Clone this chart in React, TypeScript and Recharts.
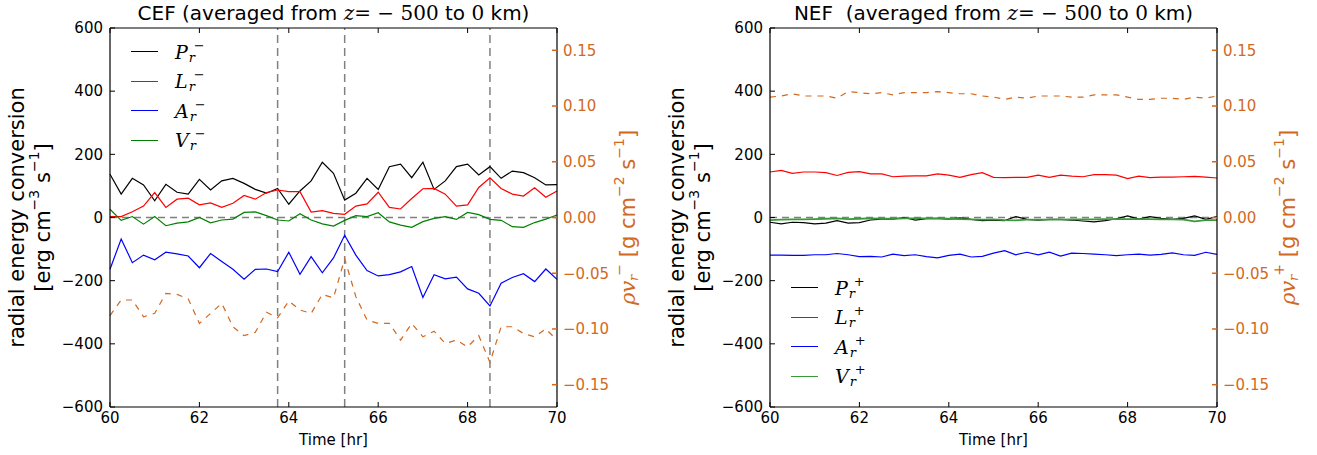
import React from 'react'
import { LineChart, Line, XAxis, YAxis, ReferenceLine, Legend } from 'recharts'

const timeHr = [
  60, 60.25, 60.5, 60.75, 61, 61.25, 61.5, 61.75, 62, 62.25, 62.5, 62.75, 63, 63.25,
  63.5, 63.75, 64, 64.25, 64.5, 64.75, 65, 65.25, 65.5, 65.75, 66, 66.25, 66.5, 66.75,
  67, 67.25, 67.5, 67.75, 68, 68.25, 68.5, 68.75, 69, 69.25, 69.5, 69.75, 70
]

// CEF, averaged over z = -500 .. 0 km
const cefP = [137, 74, 124, 103, 53, 105, 80, 74, 121, 87, 116, 124, 108, 89, 77, 92, 42, 84, 116, 175, 140, 55, 77, 124, 89, 161, 169, 126, 175, 89, 116, 161, 169, 135, 161, 124, 147, 142, 126, 103, 104]
const cefL = [3, 3, 18, 36, 79, 32, 58, 61, 40, 46, 32, 45, 70, 58, 79, 87, 82, 82, 17, 22, 13, 10, 36, 43, 80, 32, 27, 60, 91, 92, 74, 36, 40, 95, 126, 92, 74, 68, 94, 64, 84]
const cefA = [-164, -68, -143, -119, -134, -110, -115, -122, -159, -114, -139, -164, -195, -164, -163, -171, -110, -180, -124, -175, -128, -56, -119, -168, -185, -181, -172, -155, -253, -181, -194, -189, -226, -240, -280, -208, -190, -178, -203, -163, -196]
const cefV = [26, -9, 3, -21, 3, -26, -18, -14, 0, -17, -8, -5, 16, 18, 6, -8, -11, 12, -8, -20, -27, -9, 6, 3, 15, -14, -24, -31, -13, -3, 3, -6, 16, 9, -6, -9, -29, -31, -16, -5, 8]
const cefRho = [-0.088, -0.074, -0.074, -0.089, -0.086, -0.068, -0.069, -0.073, -0.095, -0.086, -0.077, -0.098, -0.106, -0.103, -0.085, -0.09, -0.075, -0.083, -0.086, -0.069, -0.072, -0.037, -0.071, -0.092, -0.095, -0.095, -0.11, -0.095, -0.107, -0.102, -0.113, -0.11, -0.116, -0.106, -0.13, -0.098, -0.098, -0.104, -0.107, -0.1, -0.11]
const cefMarks = [63.75, 65.25, 68.5]

// NEF
const nefP = [-15, -20, -15, -16, -20, -18, -10, -18, -16, -8, -5, -5, 0, -8, -4, -3, -5, -1, -6, -10, -8, -10, 3, -6, -8, -6, -6, -8, -11, -14, -10, -4, 5, -5, 3, -3, -6, -3, 5, -6, 3]
const nefL = [144, 149, 140, 144, 144, 142, 133, 143, 145, 138, 138, 129, 131, 132, 132, 138, 134, 127, 136, 142, 127, 126, 127, 127, 134, 127, 134, 131, 129, 136, 136, 134, 123, 131, 126, 128, 128, 129, 130, 128, 125]
const nefA = [-119, -119, -120, -120, -118, -118, -114, -118, -124, -123, -125, -116, -121, -118, -124, -128, -120, -116, -125, -123, -113, -105, -118, -110, -118, -110, -122, -113, -114, -116, -118, -121, -118, -116, -119, -117, -112, -118, -120, -110, -117]
const nefV = [-8, -7, -6, -6, -5, -4, -3, -5, -4, -3, -4, -4, -3, -3, -3, -3, -4, -5, -6, -7, -6, -8, -9, -7, -7, -7, -7, -6, -6, -6, -5, -5, -5, -5, -5, -6, -6, -7, -12, -8, -8]
const nefRho = [0.108, 0.109, 0.111, 0.109, 0.109, 0.109, 0.107, 0.113, 0.112, 0.111, 0.112, 0.11, 0.112, 0.112, 0.112, 0.113, 0.112, 0.111, 0.111, 0.109, 0.108, 0.106, 0.108, 0.107, 0.109, 0.109, 0.109, 0.108, 0.108, 0.11, 0.11, 0.11, 0.108, 0.106, 0.106, 0.107, 0.107, 0.106, 0.108, 0.107, 0.109]

const seriesKeys = ['P', 'L', 'A', 'V']
const xTicks = [60, 62, 64, 66, 68, 70]
const leftTicks = [-600, -400, -200, 0, 200, 400, 600]
const rightTicks = [-0.15, -0.1, -0.05, 0, 0.05, 0.1, 0.15]

const ORANGE = '#d2691e'
const SANS = 'DejaVu Sans, sans-serif'
const SERIF = 'DejaVu Serif, serif'
const MINUS = '\u2212'

const fmtLeft = (v: number) => (v < 0 ? `${MINUS}${-v}` : `${v}`)
const fmtRight = (v: number) => v.toFixed(2).replace('-', MINUS)

const buildRows = (p: number[], l: number[], a: number[], v: number[], rho: number[]) =>
  timeHr.map((t, i) => ({ t, P: p[i], L: l[i], A: a[i], V: v[i], rho: rho[i] }))

const cefRows = buildRows(cefP, cefL, cefA, cefV, cefRho)
const nefRows = buildRows(nefP, nefL, nefA, nefV, nefRho)

const LeftLabel = ({ viewBox }: any) => {
  const cy = viewBox.y + viewBox.height / 2
  const x1 = viewBox.x + 17
  const x2 = viewBox.x + 43
  return (
    <g fontFamily={SANS} fontSize={21} fill="#000">
      <text transform={`translate(${x1},${cy}) rotate(-90)`} textAnchor="middle" dominantBaseline="central">
        radial energy conversion
      </text>
      <text transform={`translate(${x2},${cy}) rotate(-90)`} textAnchor="middle" dominantBaseline="central">
        [erg cm<tspan dy={-9} fontSize={14}>{MINUS}3</tspan>
        <tspan dy={9}> s</tspan>
        <tspan dy={-9} fontSize={14}>{MINUS}1</tspan>
        <tspan dy={9}>]</tspan>
      </text>
    </g>
  )
}

const makeRightLabel = (sign: string) => ({ viewBox }: any) => {
  const cy = viewBox.y + viewBox.height / 2
  const x = viewBox.x + 71
  return (
    <text
      transform={`translate(${x},${cy}) rotate(-90)`}
      textAnchor="middle"
      dominantBaseline="central"
      fontFamily={SANS}
      fontSize={21}
      fill={ORANGE}
    >
      <tspan fontFamily={SERIF} fontStyle="italic">ρv</tspan>
      <tspan fontFamily={SERIF} fontStyle="italic" fontSize={13} dy={5}>r</tspan>
      <tspan fontFamily={SERIF} fontSize={14} dy={-14} dx={-1}>{sign}</tspan>
      <tspan dy={9}>{'\u00a0'}[g cm</tspan>
      <tspan dy={-9} fontSize={14}>{MINUS}2</tspan>
      <tspan dy={9}> s</tspan>
      <tspan dy={-9} fontSize={14}>{MINUS}1</tspan>
      <tspan dy={9}>]</tspan>
    </text>
  )
}

const makeTitle = (name: string) => ({ viewBox }: any) => (
  <text x={viewBox.x + viewBox.width / 2} y={viewBox.y - 7} textAnchor="middle" fontFamily={SANS} fontSize={20} fill="#000">
    {name}(averaged from <tspan fontFamily={SERIF} fontStyle="italic">z</tspan>
    <tspan fontFamily={SERIF}>= {MINUS} 500</tspan> to <tspan fontFamily={SERIF}>0</tspan> km)
  </text>
)

const XLabel = ({ viewBox }: any) => (
  <text x={viewBox.x + viewBox.width / 2} y={viewBox.y + 38} textAnchor="middle" fontFamily={SANS} fontSize={15} fill="#000">
    Time [hr]
  </text>
)

const makeLegend = (sign: string, colors: string[], widths: number[]) => () => (
  <div>
    {seriesKeys.map((key, i) => (
      <div key={key} style={{ display: 'flex', alignItems: 'center', height: 29.5 }}>
        <div style={{ width: 27, borderTop: `${widths[i]}px solid ${colors[i]}` }} />
        <div style={{ marginLeft: 17, fontFamily: SERIF, fontStyle: 'italic', fontSize: 19, display: 'flex', alignItems: 'center' }}>
          <span>{key}</span>
          <span style={{ display: 'inline-flex', flexDirection: 'column', fontSize: 13, lineHeight: '12px', marginLeft: 1 }}>
            <span style={{ fontStyle: 'normal', marginLeft: 5 }}>{sign}</span>
            <span>r</span>
          </span>
        </div>
      </div>
    ))}
  </div>
)

interface PanelProps {
  rows: any[]
  title: string
  sign: string
  width: number
  rightWidth: number
  legendTop: number
  marks: number[]
  colors: string[]
  widths: number[]
}

function Panel({ rows, title, sign, width, rightWidth, legendTop, marks, colors, widths }: PanelProps) {
  return (
    <LineChart width={width} height={455} data={rows} margin={{ top: 27, right: 0, bottom: 0, left: 0 }}>
      <XAxis
        xAxisId="b"
        dataKey="t"
        type="number"
        domain={[60, 70]}
        ticks={xTicks}
        height={48}
        tickSize={-5}
        tickMargin={10}
        stroke="#000"
        tick={{ fill: '#000', fontSize: 15, fontFamily: SANS }}
        axisLine={{ stroke: '#000', strokeWidth: 1.2 }}
        label={<XLabel />}
      />
      <XAxis
        xAxisId="top"
        orientation="top"
        dataKey="t"
        type="number"
        domain={[60, 70]}
        ticks={xTicks}
        height={1}
        tickSize={-5}
        tickFormatter={() => ''}
        stroke="#000"
        axisLine={{ stroke: '#000', strokeWidth: 1.2 }}
        label={makeTitle(title)}
      />
      <YAxis
        yAxisId="l"
        domain={[-600, 600]}
        ticks={leftTicks}
        width={110}
        tickSize={-5}
        tickMargin={12}
        stroke="#000"
        tickFormatter={fmtLeft}
        tick={{ fill: '#000', fontSize: 15, fontFamily: SANS }}
        axisLine={{ stroke: '#000', strokeWidth: 1.2 }}
        label={<LeftLabel />}
      />
      <YAxis
        yAxisId="r"
        orientation="right"
        domain={[-0.17, 0.17]}
        ticks={rightTicks}
        width={rightWidth}
        tickSize={-5}
        tickMargin={11}
        tickFormatter={fmtRight}
        tick={{ fill: ORANGE, fontSize: 15, fontFamily: SANS }}
        tickLine={{ stroke: ORANGE, strokeWidth: 1.5 }}
        axisLine={{ stroke: '#000', strokeWidth: 1.2 }}
        label={makeRightLabel(sign)}
      />
      <ReferenceLine xAxisId="b" yAxisId="l" y={0} stroke="#808080" strokeWidth={1.3} strokeDasharray="7 5" />
      {marks.map((m) => (
        <ReferenceLine key={m} xAxisId="b" yAxisId="l" x={m} stroke="#808080" strokeWidth={1.5} strokeDasharray="8 5" />
      ))}
      <Line xAxisId="b" yAxisId="r" dataKey="rho" type="linear" stroke={ORANGE} strokeWidth={1.2} strokeDasharray="6 6" dot={false} legendType="none" isAnimationActive={false} />
      {seriesKeys.map((key, i) => (
        <Line key={key} xAxisId="b" yAxisId="l" dataKey={key} name={key} type="linear" stroke={colors[i]} strokeWidth={widths[i]} dot={false} isAnimationActive={false} />
      ))}
      <Legend
        layout="vertical"
        align="center"
        verticalAlign="middle"
        content={makeLegend(sign, colors, widths)}
        wrapperStyle={{ left: 131, top: legendTop, width: 90, bottom: 'auto', right: 'auto' }}
      />
    </LineChart>
  )
}

export default function App() {
  return (
    <div style={{ position: 'absolute', left: 0, top: 0, width: 1317, height: 455, background: '#fff' }}>
      <div style={{ position: 'absolute', left: 0, top: 0 }}>
        <Panel
          rows={cefRows}
          title={'CEF\u00a0'}
          sign={MINUS}
          width={660}
          rightWidth={103}
          legendTop={37}
          marks={cefMarks}
          colors={['#000000', '#ff0000', '#0000ff', '#008000']}
          widths={[1.2, 1.2, 1.2, 1.2]}
        />
      </div>
      <div style={{ position: 'absolute', left: 660, top: 0 }}>
        <Panel
          rows={nefRows}
          title={'NEF\u00a0\u00a0'}
          sign="+"
          width={657}
          rightWidth={100}
          legendTop={273}
          marks={[]}
          colors={['#000000', '#ff0000', '#0000ff', '#3a9a3a']}
          widths={[1.2, 1.2, 1.2, 1.8]}
        />
      </div>
    </div>
  )
}
